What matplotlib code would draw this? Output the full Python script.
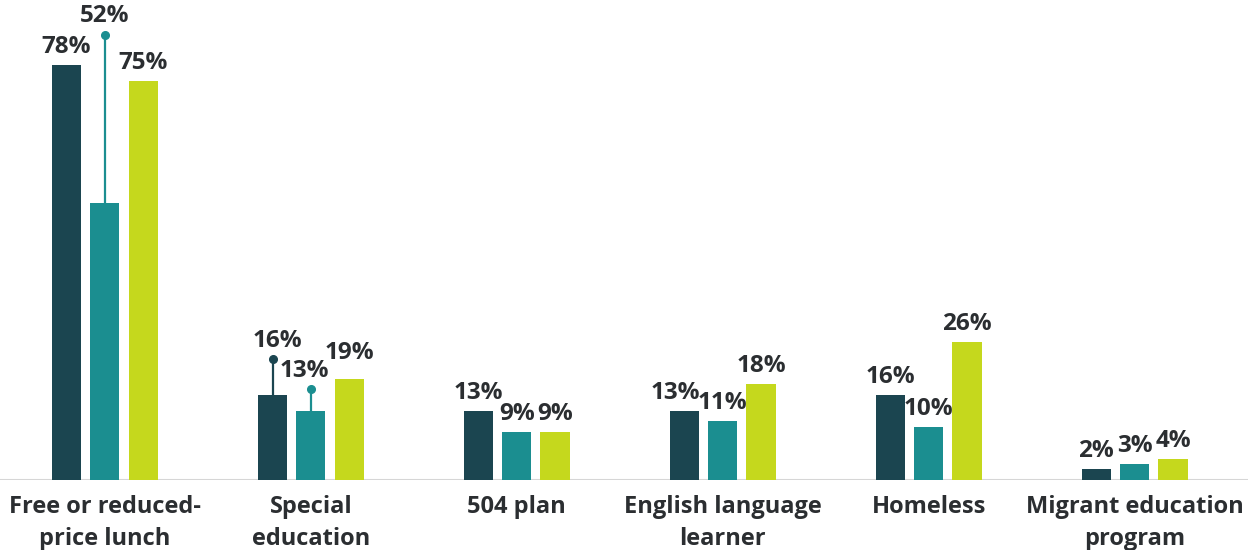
import matplotlib
matplotlib.use("Agg")
import matplotlib.pyplot as plt
import numpy as np

categories = [
    "Free or reduced-\nprice lunch",
    "Special\neducation",
    "504 plan",
    "English language\nlearner",
    "Homeless",
    "Migrant education\nprogram",
]
series_a = [78, 16, 13, 13, 16, 2]
series_b = [52, 13, 9, 11, 10, 3]
series_c = [75, 19, 9, 18, 26, 4]

colors = ["#1b4550", "#1b8e90", "#c5d81d"]
text_color = "#2b2e31"
grid_color = "#d6d6d6"

# labels lifted on a pin above their bar: (series index, category index) -> label height
pinned = {(1, 0): 86.0, (0, 1): 25.0, (1, 1): 19.4}
# small label shifts (pixels) to keep neighbouring labels apart
label_nudge = {(0, 1): (5, 0), (1, 1): (-6, 0), (2, 1): (0, 8), (0, 3): (-9, 0)}

plt.rcParams["font.family"] = ["Open Sans", "DejaVu Sans"]

fig = plt.figure(figsize=(12.48, 5.5), dpi=100)
ax = fig.add_axes([0, 70 / 550, 1, 480 / 550])
ax.set_xlim(-0.509, 5.55)
ax.set_ylim(0, 90.2)
ax.axis("off")

x = np.arange(len(categories))
width = 0.142
offset = 0.186
value_size = 17.5
gap_px = 12

for si, (vals, col) in enumerate(zip([series_a, series_b, series_c], colors)):
    xs = x + (si - 1) * offset
    ax.bar(xs, vals, width=width, color=col, zorder=2)
    for ci, (xi, v) in enumerate(zip(xs, vals)):
        dx, dy = label_nudge.get((si, ci), (0, 0))
        if (si, ci) in pinned:
            ly = pinned[(si, ci)]
            dot_y = ly - 2.3
            ax.plot([xi, xi], [v, dot_y], color=col, lw=1.6, zorder=3,
                    solid_capstyle="butt")
            ax.plot([xi], [dot_y], "o", color=col, ms=5.5, zorder=3)
            anchor, base = (xi, ly), 0
        else:
            anchor, base = (xi, v), gap_px
        ax.annotate(f"{v}%", anchor, xytext=(dx, base + dy),
                    textcoords="offset pixels", ha="center",
                    va="baseline", fontsize=value_size, fontweight="bold",
                    color=text_color)

ax.axhline(0, color=grid_color, lw=1.5, zorder=1)

for xi, cat in zip(x, categories):
    ax.annotate(cat, (xi, 0), xytext=(0, -11), textcoords="offset points",
                ha="center", va="top", fontsize=17, fontweight="bold",
                color=text_color, linespacing=1.45, annotation_clip=False)

fig.savefig("out.png", dpi=100)
